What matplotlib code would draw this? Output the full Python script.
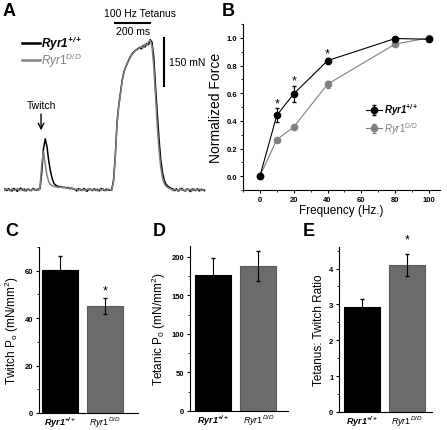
import numpy as np
import matplotlib
matplotlib.use('Agg')
import matplotlib.pyplot as plt
from matplotlib import ticker

plt.rcParams['font.family'] = ['Liberation Sans', 'DejaVu Sans']
plt.rcParams['mathtext.fontset'] = 'custom'
plt.rcParams['mathtext.rm'] = 'Liberation Sans'
plt.rcParams['mathtext.it'] = 'Liberation Sans:italic'
plt.rcParams['mathtext.bf'] = 'Liberation Sans:bold'
plt.rcParams['mathtext.bfit'] = 'Liberation Sans:italic:bold'

############
### Data ###
############

# force traces (mN), one sample every 10 ms
trace_time = np.arange(0, 1150, 10)
trace_wt = [3, -2, 4, 0, -3, 5, 1, -4, 2, 6, -1, 3, -3, 4, 0, -2, 5, 2, -1, 3,
            4, 55, 130, 160, 135, 90, 58, 35, 20, 15, 12, 10, 11, 8, 9, 6, 8, 4, 6, 3,
            2, -3, 4, 1, -2, 5, 0, -4, 3, 1, -2, 4, -1, 2, -3, 5, 1, -2, 3, 0, -1, 2,
            30, 105, 210, 265, 305, 345, 370, 385, 398, 410, 420, 428, 434, 438, 442, 446,
            441, 452, 447, 458, 454, 470, 462, 415, 325, 240, 160, 95, 55, 30, 18, 12, 8, 5,
            3, -2, 4, -4, 2, 5, -1, -3, 4, 1, -5, 3, 0, -2, 4, -3, 2, 1, -2]
trace_dd = [-2, 3, 1, -3, 4, 0, -1, 5, -2, 2, 3, -3, 1, 4, -2, 0, 3, -1, 2, -2,
            8, 80, 120, 80, 45, 26, 17, 13, 11, 10, 9, 8, 10, 7, 8, 6, 5, 7, 4, 5,
            1, 3, -2, 4, -1, 2, -3, 3, 0, 4, -2, 1, 3, -3, 2, 0, 4, -1, -2, 3, 1, -2,
            25, 100, 205, 262, 300, 342, 368, 384, 396, 408, 418, 426, 433, 437, 440, 445,
            448, 445, 456, 452, 463, 468, 450, 385, 295, 200, 125, 70, 38, 20, 12, 8, 5, 3,
            -2, 3, 1, -3, 5, -1, 2, -4, 3, 0, 2, -3, 4, -1, 1, 3, -2, 0, 2]

# force-frequency
freq = [0, 10, 20, 40, 80, 100]
force_wt = [0.0, 0.44, 0.595, 0.835, 0.995, 0.99]
force_wt_err = [0.0, 0.05, 0.06, 0.02, 0.01, 0.01]
force_dd = [0.0, 0.265, 0.355, 0.665, 0.955, 1.0]
force_dd_err = [0.0, 0.01, 0.01, 0.025, 0.01, 0.01]
sig_freq = [10, 20, 40]

# bar panels
genotypes = [r'$\mathbfit{Ryr1}^{\mathbfit{+/+}}$', r'$\mathit{Ryr1}^{\mathit{D/D}}$']
twitch = [60.3, 45.3]
twitch_err = [6.0, 3.4]
tetanic = [176, 188]
tetanic_err = [22.5, 20]
ratio = [2.92, 4.1]
ratio_err = [0.23, 0.3]

################
### Plotting ###
################

W, H = 447, 431
fig = plt.figure(figsize=(W / 100, H / 100), dpi=100)

def px_axes(x0, y0, x1, y1):
    return fig.add_axes([x0 / W, 1 - y1 / H, (x1 - x0) / W, (y1 - y0) / H])

BLACK = 'black'
GRAY = '#808080'
BAR_GRAY = '#6b6b6b'

### A: force traces
ax = px_axes(0, 0, 215, 205)
ax.axis('off')
ax.set_xlim(-28.6, 1200)
ax.set_ylim(-43.75, 597)
ax.plot(trace_time, trace_wt, color=BLACK, lw=1.1)
ax.plot(trace_time, trace_dd, color=GRAY, lw=1.1)
ax.plot([629, 829], [522, 522], color=BLACK, lw=1.5)
ax.plot([909, 909], [325, 475], color=BLACK, lw=1.5)
ax.text(771, 553, '100 Hz Tetanus', ha='center', va='center', fontsize=7.5)
ax.text(729, 497, '200 ms', ha='center', va='center', fontsize=7.5)
ax.text(935, 400, '150 mN', ha='left', va='center', fontsize=7.5)
ax.text(206, 265, 'Twitch', ha='center', va='center', fontsize=7.5)
ax.annotate('', xy=(206, 178), xytext=(206, 246),
            arrowprops=dict(arrowstyle='->', color=BLACK, lw=1.0))
ax.plot([97, 200], [459, 459], color=BLACK, lw=1.8)
ax.plot([97, 200], [406, 406], color=GRAY, lw=1.8)
ax.text(205, 459, genotypes[0], ha='left', va='center', fontsize=8.5)
ax.text(205, 406, r'$\mathit{Ryr1}^{\mathit{D/D}}$', ha='left', va='center',
        fontsize=8.5, color=GRAY)

### B: force-frequency
ax_b = px_axes(243, 25, 440, 191)
ax_b.errorbar(freq, force_dd, yerr=force_dd_err, color=GRAY, marker='o', ms=4.5,
              lw=0.8, capsize=1.5, elinewidth=0.8, label=r'$\mathit{Ryr1}^{\mathrm{D/D}}$')
ax_b.errorbar(freq, force_wt, yerr=force_wt_err, color=BLACK, marker='o', ms=4.5,
              lw=0.8, capsize=1.5, elinewidth=0.8, label=genotypes[0])
for f in sig_freq:
    i = freq.index(f)
    ax_b.text(f, force_wt[i] + force_wt_err[i] + 0.035, '*', ha='center', va='center',
              fontsize=9)
ax_b.set_xlim(-10, 106.5)
ax_b.set_ylim(-0.1, 1.1)
ax_b.set_xticks([0, 20, 40, 60, 80, 100])
ax_b.xaxis.set_minor_locator(ticker.MultipleLocator(10))
ax_b.set_yticks([0.0, 0.2, 0.4, 0.6, 0.8, 1.0])
ax_b.yaxis.set_minor_locator(ticker.MultipleLocator(0.1))
ax_b.yaxis.set_major_formatter(ticker.FormatStrFormatter('%.1f'))
ax_b.set_xlabel('Frequency (Hz.)', fontsize=8.5, labelpad=1)
ax_b.set_ylabel('Normalized Force', fontsize=10, labelpad=3)
handles, labels = ax_b.get_legend_handles_labels()
leg = ax_b.legend(handles[::-1], labels[::-1], loc='center left', bbox_to_anchor=(0.58, 0.43),
                  frameon=False, fontsize=7, handlelength=1.6, handletextpad=0.3,
                  labelspacing=0.3)
leg.get_texts()[1].set_color(GRAY)

### C, D, E: bars
def bar_panel(ax, values, errs, ylim, major, minor, ylabel, xlim):
    ax.bar([0, 1], values, width=0.8, color=[BLACK, BAR_GRAY],
           edgecolor=[BLACK, '#5a5a5a'], linewidth=0.8)
    ax.errorbar([0, 1], values, yerr=errs, fmt='none', ecolor=BLACK,
                elinewidth=0.8, capsize=1.5)
    ax.set_xlim(*xlim)
    ax.set_ylim(*ylim)
    ax.yaxis.set_major_locator(ticker.MultipleLocator(major))
    ax.yaxis.set_minor_locator(ticker.MultipleLocator(minor))
    ax.set_xticks([0, 1])
    ax.set_xticklabels(genotypes, fontsize=6.5)
    ax.set_ylabel(ylabel, fontsize=8.5, labelpad=3)

ax_c = px_axes(39, 248, 138, 414)
bar_panel(ax_c, twitch, twitch_err, (0, 70), 20, 10,
          r'Twitch P$_\mathrm{o}$ (mN/mm$^2$)', (-0.467, 1.733))
ax_c.text(1, 51.5, '*', ha='center', va='center', fontsize=9)

ax_d = px_axes(190, 247, 288, 412)
bar_panel(ax_d, tetanic, tetanic_err, (0, 214), 50, 25,
          r'Tetanic P$_0$ (mN/mm$^2$)', (-0.522, 1.656))

ax_e = px_axes(339, 248, 432, 413)
bar_panel(ax_e, ratio, ratio_err, (0, 4.6), 1, 0.5,
          'Tetanus: Twitch Ratio', (-0.511, 1.556))
ax_e.text(1, 4.8, '*', ha='center', va='center', fontsize=9, clip_on=False)

### common axis styling
for ax in [ax_b, ax_c, ax_d, ax_e]:
    for side in ['top', 'right']:
        ax.spines[side].set_visible(False)
    for side in ['left', 'bottom']:
        ax.spines[side].set_linewidth(0.8)
    ax.tick_params(which='major', length=2.5, width=0.8, pad=1.5)
    ax.tick_params(which='minor', length=1.5, width=0.6)
    for lbl in ax.get_yticklabels():
        lbl.set_fontsize(5.5)
        lbl.set_fontweight('bold')
for lbl in ax_b.get_xticklabels():
    lbl.set_fontsize(5.5)
    lbl.set_fontweight('bold')
for ax in [ax_c, ax_d, ax_e]:
    ax.tick_params(axis='x', which='both', length=0, pad=1)

### panel letters
for letter, x, y in [('A', 3, 11), ('B', 222, 11), ('C', 5, 232), ('D', 153, 232), ('E', 303, 232)]:
    fig.text(x / W, 1 - y / H, letter, fontsize=13, fontweight='bold', va='center', ha='left')

fig.savefig('out.png', dpi=100)
